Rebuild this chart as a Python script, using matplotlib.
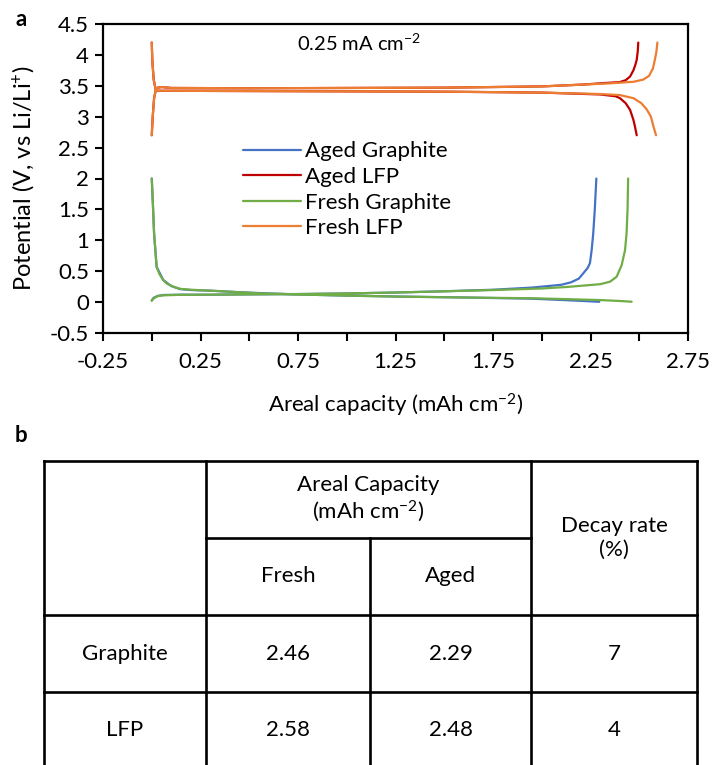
import numpy as np
import matplotlib
matplotlib.use("Agg")
import matplotlib.pyplot as plt

plt.rcParams['font.family'] = ['Lato', 'DejaVu Sans']
plt.rcParams['mathtext.fontset'] = 'custom'
plt.rcParams['mathtext.rm'] = 'Lato'
plt.rcParams['mathtext.it'] = 'Lato:italic'
plt.rcParams['mathtext.bf'] = 'Lato:bold'

# ---- panel a : voltage profiles (charge branch, then discharge branch) ----
ag_chg_x = [0.0, 0.01, 0.03, 0.06, 0.15, 0.3, 0.5, 0.75, 1.0, 1.25, 1.5, 1.75, 1.95,
            2.1, 2.15, 2.19, 2.213, 2.235, 2.247, 2.256, 2.264, 2.272, 2.28]
ag_chg_y = [0.03, 0.07, 0.10, 0.115, 0.12, 0.12, 0.125, 0.13, 0.14, 0.155, 0.175, 0.20, 0.235,
            0.28, 0.32, 0.38, 0.466, 0.55, 0.628, 0.843, 1.11, 1.5, 2.0]
ag_dis_x = [0.0, 0.005, 0.012, 0.025, 0.059, 0.1, 0.145, 0.2, 0.3, 0.45, 0.6, 0.8, 1.0,
            1.27, 1.6, 1.95, 2.1, 2.2, 2.295]
ag_dis_y = [2.0, 1.65, 1.11, 0.57, 0.357, 0.26, 0.21, 0.195, 0.185, 0.16, 0.14, 0.12, 0.105,
            0.09, 0.075, 0.055, 0.035, 0.02, 0.005]

al_chg_x = [0.0, 0.005, 0.012, 0.02, 0.03, 0.05, 0.1, 0.5, 1.0, 1.5, 2.0, 2.213, 2.3,
            2.4, 2.43, 2.453, 2.47, 2.48, 2.487, 2.492, 2.495]
al_chg_y = [2.7, 3.0, 3.3, 3.42, 3.47, 3.48, 3.465, 3.46, 3.465, 3.47, 3.49, 3.52, 3.54,
            3.56, 3.59, 3.65, 3.75, 3.84, 3.92, 4.05, 4.2]
al_dis_x = [0.0, 0.003, 0.01, 0.02, 0.03, 0.5, 1.0, 1.5, 2.0, 2.3, 2.38, 2.401, 2.43,
            2.453, 2.47, 2.478, 2.487]
al_dis_y = [4.2, 3.9, 3.6, 3.44, 3.42, 3.415, 3.41, 3.405, 3.39, 3.36, 3.33, 3.30, 3.22,
            3.11, 2.95, 2.84, 2.7]

fg_chg_x = [0.0, 0.01, 0.03, 0.06, 0.15, 0.3, 0.5, 0.75, 1.0, 1.25, 1.5, 1.75, 2.0,
            2.13, 2.3, 2.35, 2.384, 2.41, 2.427, 2.435, 2.44, 2.443]
fg_chg_y = [0.02, 0.06, 0.095, 0.11, 0.118, 0.12, 0.125, 0.13, 0.14, 0.155, 0.175, 0.195, 0.22,
            0.245, 0.29, 0.33, 0.41, 0.6, 0.84, 1.11, 1.5, 2.0]
fg_dis_x = [0.0, 0.005, 0.012, 0.025, 0.04, 0.059, 0.077, 0.11, 0.145, 0.2, 0.3, 0.555, 0.8,
            1.0, 1.273, 1.6, 1.957, 2.1, 2.3, 2.4, 2.461]
fg_dis_y = [2.0, 1.65, 1.11, 0.57, 0.45, 0.357, 0.30, 0.25, 0.215, 0.2, 0.185, 0.142, 0.12,
            0.105, 0.088, 0.074, 0.062, 0.05, 0.033, 0.018, 0.006]

fl_chg_x = [0.0, 0.005, 0.012, 0.02, 0.03, 0.05, 0.1, 0.5, 1.0, 1.5, 2.0, 2.213, 2.35,
            2.47, 2.52, 2.55, 2.57, 2.58, 2.588, 2.593]
fl_chg_y = [2.7, 3.0, 3.3, 3.42, 3.47, 3.48, 3.465, 3.46, 3.465, 3.47, 3.49, 3.52, 3.54,
            3.565, 3.6, 3.66, 3.78, 3.92, 4.05, 4.2]
fl_dis_x = [0.0, 0.003, 0.01, 0.02, 0.03, 0.5, 1.0, 1.5, 2.0, 2.3, 2.4, 2.47, 2.51,
            2.538, 2.56, 2.572, 2.586]
fl_dis_y = [4.2, 3.9, 3.6, 3.44, 3.42, 3.415, 3.41, 3.405, 3.39, 3.367, 3.35, 3.30, 3.22,
            3.12, 3.0, 2.85, 2.7]

series_names = ["Aged Graphite", "Aged LFP", "Fresh Graphite", "Fresh LFP"]
series_colors = ["#4472C4", "#C00000", "#70AD47", "#ED7D31"]
series_data = [
    (ag_chg_x, ag_chg_y, ag_dis_x, ag_dis_y),
    (al_chg_x, al_chg_y, al_dis_x, al_dis_y),
    (fg_chg_x, fg_chg_y, fg_dis_x, fg_dis_y),
    (fl_chg_x, fl_chg_y, fl_dis_x, fl_dis_y),
]

# ---- panel b : table ----
table_rows = ["Graphite", "LFP"]
fresh_cap = [2.46, 2.58]
aged_cap = [2.29, 2.48]
decay_rate = [7, 4]

W, H = 713, 765
fig = plt.figure(figsize=(W / 100, H / 100), dpi=100)

ax = fig.add_axes([103 / W, 1 - 333 / H, (688 - 103) / W, (333 - 24) / H])
for (cx, cy, dx, dy), name, col in zip(series_data, series_names, series_colors):
    xs = list(cx) + [np.nan] + list(dx)
    ys = list(cy) + [np.nan] + list(dy)
    ax.plot(xs, ys, color=col, lw=1.6, label=name, solid_capstyle='round')

ax.set_xlim(-0.25, 2.75)
ax.set_ylim(-0.5, 4.5)
xt = np.arange(-0.25, 2.76, 0.25)
ax.set_xticks(xt)
ax.set_xticklabels([f"{v:.2f}" if i % 2 == 0 else "" for i, v in enumerate(xt)])
yt = np.arange(-0.5, 4.51, 0.5)
ax.set_yticks(yt)
ax.set_yticklabels([f"{v:g}" for v in yt])
ax.tick_params(direction='out', length=6, width=1.5, labelsize=16, color='black')
ax.tick_params(axis='x', pad=8)
ax.tick_params(axis='y', pad=4)
for s in ax.spines.values():
    s.set_linewidth(1.6)
    s.set_color('black')

ax.set_xlabel("Areal capacity (mAh cm$^{-2}$)", fontsize=16, labelpad=14)
ax.set_ylabel("Potential (V, vs Li/Li$^{+}$)", fontsize=17, labelpad=9)
ax.text(0.332, 0.937, "0.25 mA cm$^{-2}$", transform=ax.transAxes, fontsize=14.5,
        ha='left', va='center')
leg = ax.legend(loc='upper left', bbox_to_anchor=(0.239, 0.62), frameon=False,
                fontsize=16, handlelength=2.6, handletextpad=0.2, labelspacing=0.25,
                borderaxespad=0, borderpad=0)

fig.text(15 / W, 1 - 20 / H, "a", fontsize=16, fontweight='bold', va='center')
fig.text(15 / W, 1 - 435 / H, "b", fontsize=16, fontweight='bold', va='center')

# table drawn on a pixel-space overlay
tx = fig.add_axes([0, 0, 1, 1])
tx.set_xlim(0, W)
tx.set_ylim(H, 0)
tx.axis('off')
col_edges = [44, 206, 370, 531, 697]
row_edges = [461, 538, 615, 692, 769]
kw = dict(color='black', lw=1.9, solid_capstyle='projecting')
tx.plot([col_edges[0], col_edges[-1]], [row_edges[0]] * 2, **kw)
tx.plot([col_edges[1], col_edges[3]], [row_edges[1]] * 2, **kw)
for r in row_edges[2:]:
    tx.plot([col_edges[0], col_edges[-1]], [r, r], **kw)
for i, c in enumerate(col_edges):
    top = row_edges[1] if i == 2 else row_edges[0]
    tx.plot([c, c], [top, row_edges[-1]], **kw)

fs = 16
tx.text((col_edges[1] + col_edges[3]) / 2, (row_edges[0] + row_edges[1]) / 2,
        "Areal Capacity\n(mAh cm$^{-2}$)", ha='center', va='center', fontsize=fs,
        linespacing=1.2)
tx.text((col_edges[3] + col_edges[4]) / 2, (row_edges[0] + row_edges[2]) / 2,
        "Decay rate\n(%)", ha='center', va='center', fontsize=fs, linespacing=1.2)
tx.text((col_edges[1] + col_edges[2]) / 2, (row_edges[1] + row_edges[2]) / 2,
        "Fresh", ha='center', va='center', fontsize=fs)
tx.text((col_edges[2] + col_edges[3]) / 2, (row_edges[1] + row_edges[2]) / 2,
        "Aged", ha='center', va='center', fontsize=fs)
for i, name in enumerate(table_rows):
    yc = (row_edges[2 + i] + row_edges[3 + i]) / 2
    vals = [name, f"{fresh_cap[i]:.2f}", f"{aged_cap[i]:.2f}", f"{decay_rate[i]}"]
    for j, v in enumerate(vals):
        tx.text((col_edges[j] + col_edges[j + 1]) / 2, yc, v, ha='center', va='center',
                fontsize=fs)

fig.savefig("out.png", dpi=100)
